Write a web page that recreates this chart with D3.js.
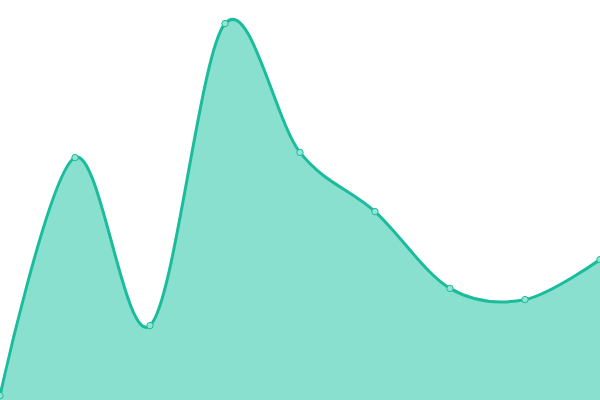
<!DOCTYPE html>
<html><head><meta charset="utf-8">
<script src="https://cdn.jsdelivr.net/npm/d3@7"></script>
<style>html,body{margin:0;padding:0;background:#fff;overflow:hidden}</style>
</head><body>
<svg id="chart" width="600" height="400"></svg>
<script>
const categories = ["A","B","C","D","E","F","G","H","I"];
const values = [1.1, 60.6, 18.6, 94.1, 61.9, 47.1, 27.9, 25.1, 35.1];

const W = 600, H = 400;
const svg = d3.select("#chart");
const x = d3.scalePoint().domain(categories).range([0, W]);
const y = d3.scaleLinear().domain([0, 100]).range([H, 0]);
const data = categories.map((c, i) => ({c, v: values[i]}));

const curve = d3.curveCardinal;
svg.append("path").datum(data)
  .attr("d", d3.area().x(d => x(d.c)).y0(H).y1(d => y(d.v)).curve(curve))
  .attr("fill", "#89e0cf");
svg.append("path").datum(data)
  .attr("d", d3.line().x(d => x(d.c)).y(d => y(d.v)).curve(curve))
  .attr("fill", "none").attr("stroke", "#1abc9c").attr("stroke-width", 3);
svg.selectAll("circle").data(data).enter().append("circle")
  .attr("cx", d => x(d.c)).attr("cy", d => y(d.v)).attr("r", 3.2)
  .attr("fill", "#95e3d4").attr("stroke", "#1abc9c").attr("stroke-width", 1);
</script>
</body></html>
